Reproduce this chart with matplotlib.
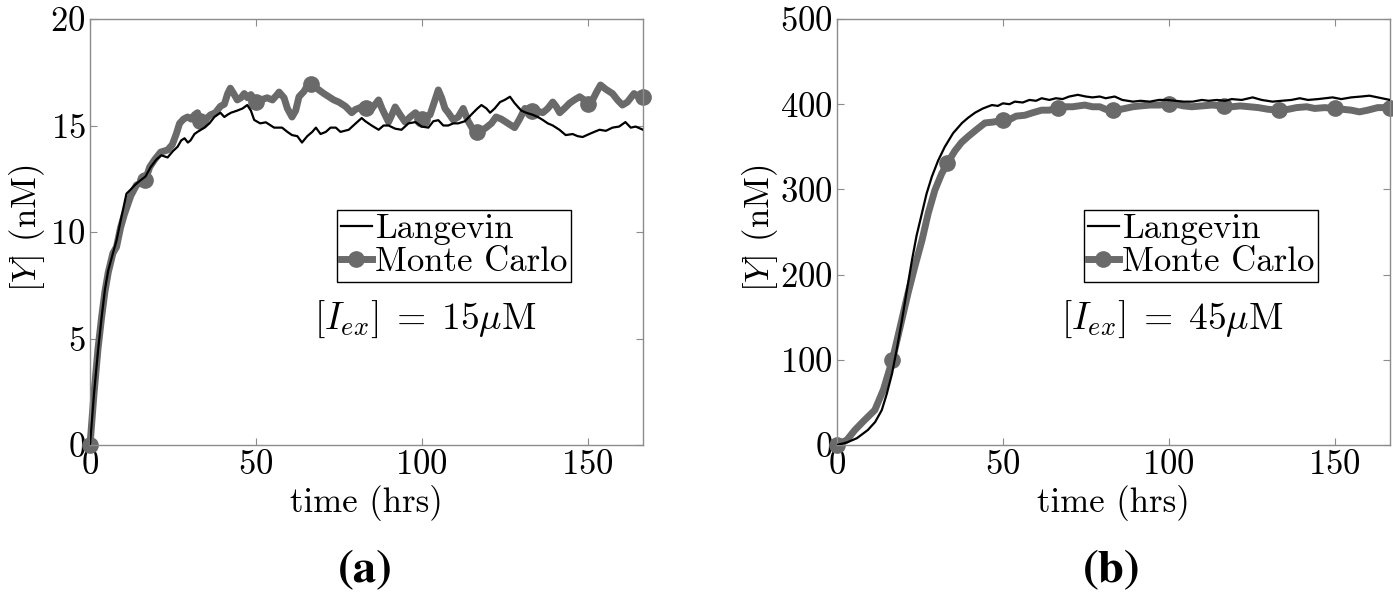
import numpy as np
import matplotlib
matplotlib.use("Agg")
import matplotlib.pyplot as plt

plt.rcParams['font.family'] = 'serif'
plt.rcParams['font.serif'] = ['cmr10', 'DejaVu Serif']
plt.rcParams['mathtext.fontset'] = 'cm'
plt.rcParams['axes.formatter.use_mathtext'] = True

# ---- panel (a): [I_ex] = 15 uM ----
t_lang_a = [0, 1.2, 2.4, 3.5, 4.5, 5.5, 6.9, 8.0, 9.2, 10.3, 11.0, 12.3, 13.5, 15.0, 16.7,
            18.3, 20.0, 21.5, 23.4, 25.0, 26.4, 27.5, 28.5, 29.5, 30.3, 31.5, 32.4, 34.5, 36.0,
            37.5, 39.3, 40.5, 41.4, 42.5, 44.4, 46.0, 47.4, 48.5, 49.5, 51.3, 53.0, 55.5, 57.9,
            59.5, 60.9, 62.5, 63.9, 65.5, 67.0, 68.1, 69.5, 71.1, 72.5, 74.1, 75.5, 78.0, 80.1,
            81.9, 83.0, 84.9, 87.0, 88.5, 90.0, 92.0, 93.9, 96.0, 98.1, 100.0, 102.0, 103.5,
            105.0, 106.5, 108.0, 109.5, 111.0, 113.0, 115.5, 116.8, 118.0, 119.5, 120.6, 122.0,
            123.6, 125.0, 126.6, 128.0, 130.0, 131.5, 133.5, 135.0, 136.5, 138.0, 139.5, 141.5,
            143.4, 145.5, 147.0, 148.5, 150.5, 152.0, 153.6, 155.5, 157.5, 159.5, 161.4, 163.0,
            164.5, 166.7]
y_lang_a = [0, 2.4, 4.4, 6.0, 7.3, 8.2, 9.0, 9.6, 10.5, 11.3, 11.8, 12.0, 12.2, 12.4, 12.6,
            13.05, 13.4, 13.6, 13.5, 13.8, 14.0, 14.3, 14.4, 14.2, 14.3, 14.6, 14.7, 14.9, 15.1,
            15.4, 15.6, 15.4, 15.5, 15.6, 15.7, 15.8, 15.96, 15.7, 15.26, 15.1, 15.15, 14.9, 14.9,
            14.7, 14.55, 14.5, 14.2, 14.5, 14.7, 14.9, 14.6, 14.7, 14.9, 14.9, 14.7, 14.8, 15.1,
            15.35, 15.2, 15.0, 14.8, 15.0, 15.0, 14.85, 14.8, 15.1, 15.16, 14.95, 14.9, 15.2,
            15.25, 15.0, 15.0, 15.1, 15.1, 15.2, 15.6, 15.8, 15.96, 15.8, 15.6, 15.8,
            16.1, 16.2, 16.35, 16.05, 15.7, 15.6, 15.5, 15.4, 15.26, 15.1, 15.0, 14.8,
            14.55, 14.6, 14.5, 14.46, 14.6, 14.7, 14.8, 14.75, 14.9, 14.95, 15.16, 14.9,
            14.95, 14.8]

t_mc_a = [0, 1.2, 2.4, 3.5, 4.5, 5.5, 6.9, 8.0, 9.2, 10.3, 12.3, 14.0, 16.7, 18.0, 19.5, 21.3,
          23.4, 24.8, 26.0, 27.0, 28.2, 29.4, 30.5, 31.5, 32.4, 33.3, 34.5, 35.3, 36.3, 37.8,
          39.3, 40.5, 41.5, 42.3, 43.3, 44.4, 45.5, 46.5, 47.5, 48.5, 50.0, 51.5, 53.4, 55.0,
          56.4, 57.0, 58.5, 59.5, 60.9, 62.0, 63.0, 64.5, 66.0, 66.7, 68.0, 69.0, 70.5, 72.0,
          73.5, 75.0, 77.0, 78.9, 80.0, 81.9, 83.3, 84.5, 86.0, 87.0, 88.0, 90.0, 91.0, 92.0,
          93.5, 95.0, 96.5, 98.1, 100.0, 101.0, 102.5, 104.0, 105.0, 106.0, 107.0, 108.0, 109.5,
          111.0, 112.5, 114.0, 115.5, 116.7, 118.0, 119.4, 121.0, 122.4, 124.0, 125.4, 127.0,
          128.0, 129.5, 131.1, 132.5, 133.3, 134.5, 136.5, 138.0, 139.5, 140.5, 141.6, 143.0,
          144.6, 146.0, 147.6, 149.0, 150.0, 151.5, 152.8, 153.9, 155.5, 157.5, 159.0, 160.5,
          162.0, 164.0, 165.0, 166.7]
y_mc_a = [0, 2.4, 4.5, 6.0, 7.2, 8.1, 9.0, 9.3, 10.2, 10.8, 11.7, 12.2, 12.45, 13.05, 13.4, 13.75,
          13.85, 14.1, 14.6, 15.1, 15.3, 15.4, 15.3, 15.5, 15.6, 15.2, 15.1, 15.35, 15.5, 15.6,
          15.9, 16.0, 16.5, 16.75, 16.5, 16.2, 16.3, 16.5, 16.3, 16.45, 16.1, 16.2, 16.3, 16.2,
          16.45, 16.57, 16.3, 15.8, 15.4, 15.7, 16.35, 16.6, 17.0, 16.95, 16.8, 16.67, 16.5, 16.35,
          16.2, 16.1, 15.9, 15.6, 15.75, 15.87, 15.8, 15.7, 16.0, 16.2, 15.8, 15.16, 15.5, 15.87,
          15.5, 15.16, 15.4, 15.6, 15.3, 15.4, 15.5, 16.2, 16.67, 16.3, 15.8, 15.6, 15.26,
          15.4, 15.8, 15.2, 14.8, 14.7, 14.75, 14.9, 15.1, 15.4, 15.3, 15.16, 15.0,
          14.9, 15.3, 15.8, 15.75, 15.7, 15.7, 15.6, 15.8, 16.1, 15.9, 15.6, 15.8,
          16.05, 16.2, 16.35, 16.2, 16.0, 16.2, 16.6, 16.9, 16.7, 16.5, 16.2, 15.96,
          16.1, 16.5, 16.4, 16.35]

# ---- panel (b): [I_ex] = 45 uM ----
t_lang_b = [0, 3, 6, 9.3, 11.5, 13.5, 15, 16.6, 18, 19.6, 21, 22.6, 24, 25.6, 27, 28.6, 30.5,
            32.5, 35, 37.7, 39.5, 41.6, 44, 46.7, 48.5, 50, 52, 53.6, 56, 58, 60, 61.7, 64, 66,
            68, 70, 72.6, 75, 77, 79.2, 81, 83.7, 86, 89.2, 91.5, 94.3, 97, 99.4, 102, 104.5,
            107.2, 110, 112, 114.5, 117, 119, 122, 125.3, 128, 131.3, 134, 137, 139.5, 142, 145,
            149.4, 152, 155, 158, 160.5, 163, 166.7]
y_lang_b = [0, 3, 8, 17.6, 27, 41, 60, 84, 112, 147, 180, 217, 246, 272, 295, 315, 334,
            350, 366, 378, 384, 390, 395, 399, 398, 401, 400, 403, 402, 405, 404, 407, 405, 407,
            406, 409, 411, 409, 408, 409, 407, 409, 405, 403, 404, 403, 405, 405, 404, 403,
            403, 405, 404, 405, 404, 406, 405, 408, 405, 403, 404, 405, 407, 405, 406,
            408, 406, 408, 409, 410, 408, 405]

t_mc_b = [0, 3, 5.4, 8, 11.4, 14, 16.7, 19, 21.4, 23.5, 25.6, 27.5, 29.5, 31.5, 33.3, 35.5, 37.5,
          39.5, 42, 44.6, 47, 50, 52, 54, 56.6, 59, 61.7, 64, 66.7, 69, 71, 74.7, 77, 79.2, 81,
          83.3, 85.5, 89.2, 91.5, 94.3, 97, 100, 102, 104.5, 107, 110, 113, 116.7, 119, 121.5,
          124.4, 127, 130, 133.3, 136, 138.5, 141.6, 144, 147, 150, 152.5, 155, 157.5, 160, 163,
          166.7]
y_mc_b = [0, 6, 17.6, 28, 41, 65, 100, 138, 178, 210, 240, 272, 299, 318, 331, 345, 355,
          362, 370, 378, 379, 381, 382, 386, 387, 390, 393, 393, 396, 397, 397, 399, 397, 397, 394,
          393, 394, 397, 398, 399, 399, 400, 400, 398, 397, 398, 399, 398, 397, 398,
          397, 396, 394, 393, 394, 396, 397, 395, 396, 395, 394, 393, 391, 393, 396,
          396]

mark_times = [0, 16.7, 33.3, 50.0, 66.7, 83.3, 100.0, 116.7, 133.3, 150.0, 166.7]

panels = [
    (t_lang_a, y_lang_a, t_mc_a, y_mc_a, [0, 5, 10, 15, 20], r'$[I_{ex}]\;=\;15\mu\mathrm{M}$', 5.9, '(a)'),
    (t_lang_b, y_lang_b, t_mc_b, y_mc_b, [0, 100, 200, 300, 400, 500], r'$[I_{ex}]\;=\;45\mu\mathrm{M}$', 147, '(b)'),
]

gray = '#6a6a6a'
edge = '#8c8c8c'

fig = plt.figure(figsize=(13.93, 5.94), dpi=100)
lefts = [90 / 1393, 837 / 1393]
ylab_x = [-0.078, -0.103]
label_x = [365 / 1393, 1112 / 1393]

for k, (tl, yl, tm, ym, yt, note, note_y, tag) in enumerate(panels):
    ax = fig.add_axes([lefts[k], 149 / 594, 553 / 1393, 426 / 594])
    ax.plot(tl, yl, color='black', lw=1.6, label='Langevin', zorder=3)
    every = [i for i, t in enumerate(tm) if round(t, 1) in mark_times]
    ax.plot(tm, ym, color=gray, lw=5, marker='o', ms=11, markevery=every,
            label='Monte Carlo', zorder=2, clip_on=False)
    ax.set_xlim(0, 166.7)
    ax.set_ylim(yt[0], yt[-1])
    ax.set_xticks([0, 50, 100, 150])
    ax.set_yticks(yt)
    ax.tick_params(direction='in', length=5, width=0.8, color=edge, labelsize=25,
                   top=True, right=True, pad=3)
    for s in ax.spines.values():
        s.set_color(edge)
        s.set_linewidth(1.0)
    ax.set_xlabel('time (hrs)', fontsize=25)
    ax.set_ylabel(r'$[Y]$ (nM)', fontsize=25)
    ax.xaxis.set_label_coords(0.5, -0.095)
    ax.yaxis.set_label_coords(ylab_x[k], 0.51)
    leg = ax.legend(loc='upper left', bbox_to_anchor=(0.447, 0.552), fontsize=25,
                    handlelength=0.9, handletextpad=0.1, borderpad=0.1, labelspacing=0.05,
                    borderaxespad=0, fancybox=False, framealpha=1, numpoints=1)
    leg.get_frame().set_edgecolor('black')
    leg.get_frame().set_linewidth(1.0)
    ax.text(101, note_y, note, fontsize=27, ha='center', va='center')
    fig.text(label_x[k], 0.037, tag, fontsize=34, fontweight='bold',
             fontname='STIXGeneral', ha='center', va='center')

fig.savefig('out.png', dpi=100)
